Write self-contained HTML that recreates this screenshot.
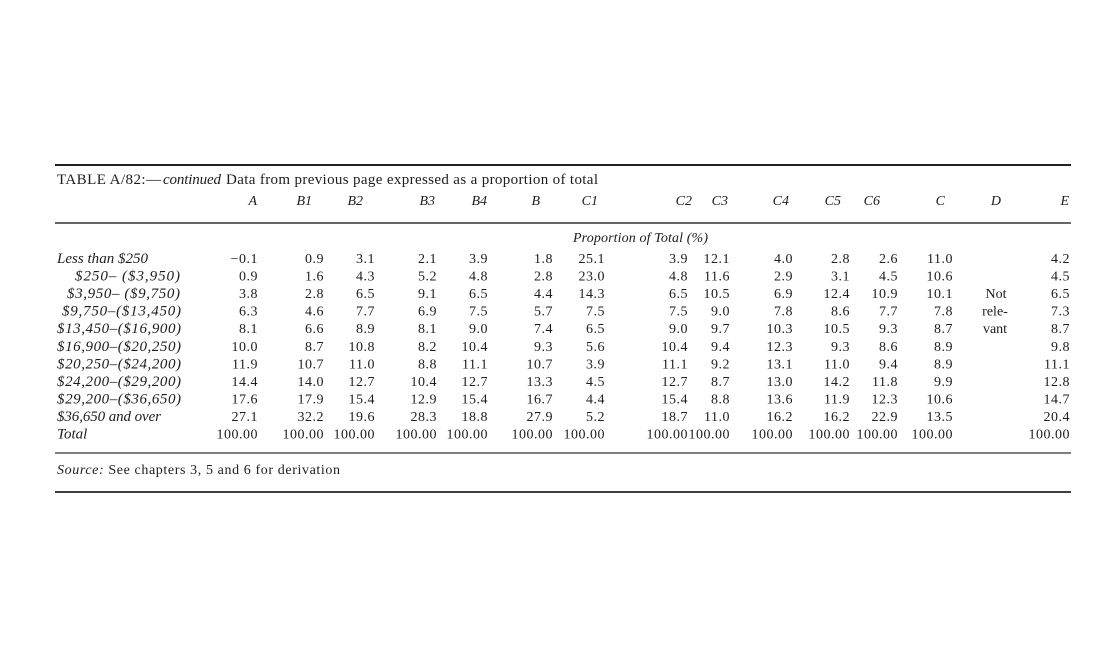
<!DOCTYPE html>
<html>
<head>
<meta charset="utf-8">
<style>
html,body{margin:0;padding:0;background:#fff;}
svg{display:block;}
text{font-family:"Liberation Serif",serif;fill:#1d1d1d;}
.n{font-size:14px;text-anchor:end;letter-spacing:0.5px;}
.l{font-size:15px;font-style:italic;}
.h{font-size:14px;font-style:italic;text-anchor:end;}
.r{font-size:14px;}
</style>
</head>
<body>
<svg width="1114" height="653" viewBox="0 0 1114 653" xmlns="http://www.w3.org/2000/svg">
<rect width="1114" height="653" fill="#fff"/>
<line x1="55" y1="165" x2="1071" y2="165" stroke="#222" stroke-width="2"/>
<line x1="55" y1="223" x2="1071" y2="223" stroke="#333" stroke-width="1.5"/>
<line x1="55" y1="453" x2="1071" y2="453" stroke="#333" stroke-width="1.3"/>
<line x1="55" y1="492" x2="1071" y2="492" stroke="#222" stroke-width="1.8"/>

<text x="57" y="184" style="font-size:15px" textLength="104" lengthAdjust="spacing">TABLE A/82:—</text>
<text x="163" y="184" style="font-size:15px;font-style:italic" textLength="58" lengthAdjust="spacing">continued</text>
<text x="226" y="184" style="font-size:15px" textLength="372" lengthAdjust="spacing">Data from previous page expressed as a proportion of total</text>

<g>
<text class="h" x="257" y="205">A</text>
<text class="h" x="312" y="205">B1</text>
<text class="h" x="363" y="205">B2</text>
<text class="h" x="435" y="205">B3</text>
<text class="h" x="487" y="205">B4</text>
<text class="h" x="540" y="205">B</text>
<text class="h" x="598" y="205">C1</text>
<text class="h" x="692" y="205">C2</text>
<text class="h" x="728" y="205">C3</text>
<text class="h" x="789" y="205">C4</text>
<text class="h" x="841" y="205">C5</text>
<text class="h" x="880" y="205">C6</text>
<text class="h" x="945" y="205">C</text>
<text class="h" x="1001" y="205">D</text>
<text class="h" x="1069" y="205">E</text>
</g>

<text class="l" style="font-size:14px" x="573" y="242" textLength="135" lengthAdjust="spacing">Proportion of Total (%)</text>

<!-- Row labels -->
<text class="l" x="57" y="263" textLength="91" lengthAdjust="spacing">Less than $250</text>
<text class="l" x="75" y="280.55" textLength="105" lengthAdjust="spacing">$250–  ($3,950)</text>
<text class="l" x="67" y="298.1" textLength="113" lengthAdjust="spacing">$3,950–  ($9,750)</text>
<text class="l" x="62" y="315.65" textLength="119" lengthAdjust="spacing">$9,750–($13,450)</text>
<text class="l" x="57" y="333.2" textLength="124" lengthAdjust="spacing">$13,450–($16,900)</text>
<text class="l" x="57" y="350.75" textLength="124" lengthAdjust="spacing">$16,900–($20,250)</text>
<text class="l" x="57" y="368.3" textLength="124" lengthAdjust="spacing">$20,250–($24,200)</text>
<text class="l" x="57" y="385.85" textLength="124" lengthAdjust="spacing">$24,200–($29,200)</text>
<text class="l" x="57" y="403.4" textLength="124" lengthAdjust="spacing">$29,200–($36,650)</text>
<text class="l" x="57" y="420.95" textLength="104" lengthAdjust="spacing">$36,650 and over</text>
<text class="l" x="57" y="438.5">Total</text>

<!-- Row 1 -->
<g transform="translate(0,263)">
<text class="n" x="258" y="0">−0.1</text>
<text class="n" x="324" y="0">0.9</text>
<text class="n" x="375" y="0">3.1</text>
<text class="n" x="437" y="0">2.1</text>
<text class="n" x="488" y="0">3.9</text>
<text class="n" x="553" y="0">1.8</text>
<text class="n" x="605" y="0">25.1</text>
<text class="n" x="688" y="0">3.9</text>
<text class="n" x="730" y="0">12.1</text>
<text class="n" x="793" y="0">4.0</text>
<text class="n" x="850" y="0">2.8</text>
<text class="n" x="898" y="0">2.6</text>
<text class="n" x="953" y="0">11.0</text>
<text class="n" x="1070" y="0">4.2</text>
</g>
<!-- Row 2 -->
<g transform="translate(0,280.55)">
<text class="n" x="258" y="0">0.9</text>
<text class="n" x="324" y="0">1.6</text>
<text class="n" x="375" y="0">4.3</text>
<text class="n" x="437" y="0">5.2</text>
<text class="n" x="488" y="0">4.8</text>
<text class="n" x="553" y="0">2.8</text>
<text class="n" x="605" y="0">23.0</text>
<text class="n" x="688" y="0">4.8</text>
<text class="n" x="730" y="0">11.6</text>
<text class="n" x="793" y="0">2.9</text>
<text class="n" x="850" y="0">3.1</text>
<text class="n" x="898" y="0">4.5</text>
<text class="n" x="953" y="0">10.6</text>
<text class="n" x="1070" y="0">4.5</text>
</g>
<!-- Row 3 -->
<g transform="translate(0,298.1)">
<text class="n" x="258" y="0">3.8</text>
<text class="n" x="324" y="0">2.8</text>
<text class="n" x="375" y="0">6.5</text>
<text class="n" x="437" y="0">9.1</text>
<text class="n" x="488" y="0">6.5</text>
<text class="n" x="553" y="0">4.4</text>
<text class="n" x="605" y="0">14.3</text>
<text class="n" x="688" y="0">6.5</text>
<text class="n" x="730" y="0">10.5</text>
<text class="n" x="793" y="0">6.9</text>
<text class="n" x="850" y="0">12.4</text>
<text class="n" x="898" y="0">10.9</text>
<text class="n" x="953" y="0">10.1</text>
<text class="r" x="996" y="0" text-anchor="middle">Not</text>
<text class="n" x="1070" y="0">6.5</text>
</g>
<!-- Row 4 -->
<g transform="translate(0,315.65)">
<text class="n" x="258" y="0">6.3</text>
<text class="n" x="324" y="0">4.6</text>
<text class="n" x="375" y="0">7.7</text>
<text class="n" x="437" y="0">6.9</text>
<text class="n" x="488" y="0">7.5</text>
<text class="n" x="553" y="0">5.7</text>
<text class="n" x="605" y="0">7.5</text>
<text class="n" x="688" y="0">7.5</text>
<text class="n" x="730" y="0">9.0</text>
<text class="n" x="793" y="0">7.8</text>
<text class="n" x="850" y="0">8.6</text>
<text class="n" x="898" y="0">7.7</text>
<text class="n" x="953" y="0">7.8</text>
<text class="r" x="995" y="0" text-anchor="middle">rele-</text>
<text class="n" x="1070" y="0">7.3</text>
</g>
<!-- Row 5 -->
<g transform="translate(0,333.2)">
<text class="n" x="258" y="0">8.1</text>
<text class="n" x="324" y="0">6.6</text>
<text class="n" x="375" y="0">8.9</text>
<text class="n" x="437" y="0">8.1</text>
<text class="n" x="488" y="0">9.0</text>
<text class="n" x="553" y="0">7.4</text>
<text class="n" x="605" y="0">6.5</text>
<text class="n" x="688" y="0">9.0</text>
<text class="n" x="730" y="0">9.7</text>
<text class="n" x="793" y="0">10.3</text>
<text class="n" x="850" y="0">10.5</text>
<text class="n" x="898" y="0">9.3</text>
<text class="n" x="953" y="0">8.7</text>
<text class="r" x="995" y="0" text-anchor="middle">vant</text>
<text class="n" x="1070" y="0">8.7</text>
</g>
<!-- Row 6 -->
<g transform="translate(0,350.75)">
<text class="n" x="258" y="0">10.0</text>
<text class="n" x="324" y="0">8.7</text>
<text class="n" x="375" y="0">10.8</text>
<text class="n" x="437" y="0">8.2</text>
<text class="n" x="488" y="0">10.4</text>
<text class="n" x="553" y="0">9.3</text>
<text class="n" x="605" y="0">5.6</text>
<text class="n" x="688" y="0">10.4</text>
<text class="n" x="730" y="0">9.4</text>
<text class="n" x="793" y="0">12.3</text>
<text class="n" x="850" y="0">9.3</text>
<text class="n" x="898" y="0">8.6</text>
<text class="n" x="953" y="0">8.9</text>
<text class="n" x="1070" y="0">9.8</text>
</g>
<!-- Row 7 -->
<g transform="translate(0,368.3)">
<text class="n" x="258" y="0">11.9</text>
<text class="n" x="324" y="0">10.7</text>
<text class="n" x="375" y="0">11.0</text>
<text class="n" x="437" y="0">8.8</text>
<text class="n" x="488" y="0">11.1</text>
<text class="n" x="553" y="0">10.7</text>
<text class="n" x="605" y="0">3.9</text>
<text class="n" x="688" y="0">11.1</text>
<text class="n" x="730" y="0">9.2</text>
<text class="n" x="793" y="0">13.1</text>
<text class="n" x="850" y="0">11.0</text>
<text class="n" x="898" y="0">9.4</text>
<text class="n" x="953" y="0">8.9</text>
<text class="n" x="1070" y="0">11.1</text>
</g>
<!-- Row 8 -->
<g transform="translate(0,385.85)">
<text class="n" x="258" y="0">14.4</text>
<text class="n" x="324" y="0">14.0</text>
<text class="n" x="375" y="0">12.7</text>
<text class="n" x="437" y="0">10.4</text>
<text class="n" x="488" y="0">12.7</text>
<text class="n" x="553" y="0">13.3</text>
<text class="n" x="605" y="0">4.5</text>
<text class="n" x="688" y="0">12.7</text>
<text class="n" x="730" y="0">8.7</text>
<text class="n" x="793" y="0">13.0</text>
<text class="n" x="850" y="0">14.2</text>
<text class="n" x="898" y="0">11.8</text>
<text class="n" x="953" y="0">9.9</text>
<text class="n" x="1070" y="0">12.8</text>
</g>
<!-- Row 9 -->
<g transform="translate(0,403.4)">
<text class="n" x="258" y="0">17.6</text>
<text class="n" x="324" y="0">17.9</text>
<text class="n" x="375" y="0">15.4</text>
<text class="n" x="437" y="0">12.9</text>
<text class="n" x="488" y="0">15.4</text>
<text class="n" x="553" y="0">16.7</text>
<text class="n" x="605" y="0">4.4</text>
<text class="n" x="688" y="0">15.4</text>
<text class="n" x="730" y="0">8.8</text>
<text class="n" x="793" y="0">13.6</text>
<text class="n" x="850" y="0">11.9</text>
<text class="n" x="898" y="0">12.3</text>
<text class="n" x="953" y="0">10.6</text>
<text class="n" x="1070" y="0">14.7</text>
</g>
<!-- Row 10 -->
<g transform="translate(0,420.95)">
<text class="n" x="258" y="0">27.1</text>
<text class="n" x="324" y="0">32.2</text>
<text class="n" x="375" y="0">19.6</text>
<text class="n" x="437" y="0">28.3</text>
<text class="n" x="488" y="0">18.8</text>
<text class="n" x="553" y="0">27.9</text>
<text class="n" x="605" y="0">5.2</text>
<text class="n" x="688" y="0">18.7</text>
<text class="n" x="730" y="0">11.0</text>
<text class="n" x="793" y="0">16.2</text>
<text class="n" x="850" y="0">16.2</text>
<text class="n" x="898" y="0">22.9</text>
<text class="n" x="953" y="0">13.5</text>
<text class="n" x="1070" y="0">20.4</text>
</g>
<!-- Total -->
<g transform="translate(0,438.5)">
<text class="n" x="258" y="0">100.00</text>
<text class="n" x="324" y="0">100.00</text>
<text class="n" x="375" y="0">100.00</text>
<text class="n" x="437" y="0">100.00</text>
<text class="n" x="488" y="0">100.00</text>
<text class="n" x="553" y="0">100.00</text>
<text class="n" x="605" y="0">100.00</text>
<text class="n" x="688" y="0">100.00</text>
<text class="n" x="730" y="0">100.00</text>
<text class="n" x="793" y="0">100.00</text>
<text class="n" x="850" y="0">100.00</text>
<text class="n" x="898" y="0">100.00</text>
<text class="n" x="953" y="0">100.00</text>
<text class="n" x="1070" y="0">100.00</text>
</g>

<text x="57" y="474" class="r" textLength="283" lengthAdjust="spacing"><tspan font-style="italic">Source:</tspan> See chapters 3, 5 and 6 for derivation</text>
</svg>
</body>
</html>
